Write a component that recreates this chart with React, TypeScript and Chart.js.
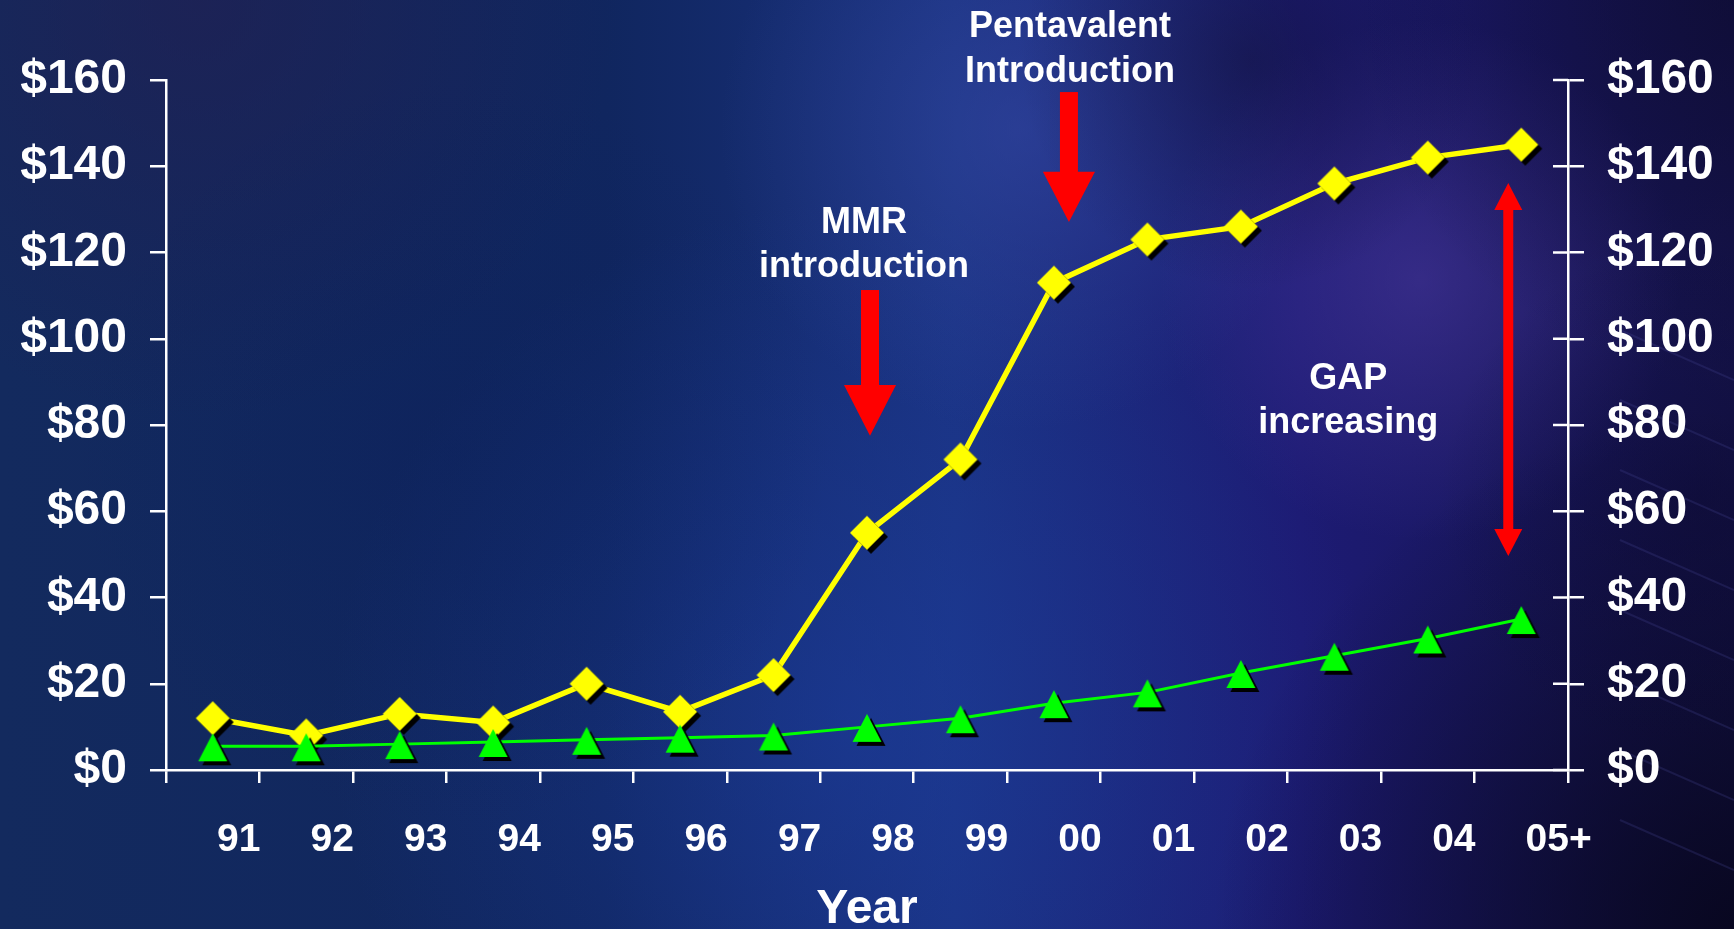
import React, { useEffect, useRef } from "react";
import { Chart, registerables } from "chart.js";

Chart.register(...registerables);

const years = ["91", "92", "93", "94", "95", "96", "97", "98", "99", "00", "01", "02", "03", "04", "05+"];
const highPrices = [12, 8, 13, 11, 20, 13.5, 22, 55, 72, 113, 123, 126, 136, 142, 145];
const lowPrices = [5.5, 5.5, 6, 6.5, 7, 7.5, 8, 10, 12, 15.5, 18, 22.5, 26.5, 30.5, 35];
const yTicks = [0, 20, 40, 60, 80, 100, 120, 140, 160];

const W = 1734;
const H = 929;
const FONT = "'Liberation Sans', Arial, Helvetica, sans-serif";

function makeDiamond(color: string): HTMLCanvasElement {
  const c = document.createElement("canvas");
  c.width = 50;
  c.height = 50;
  const ctx = c.getContext("2d")!;
  const draw = (cx: number, cy: number, fill: string) => {
    ctx.beginPath();
    ctx.moveTo(cx - 17, cy);
    ctx.lineTo(cx, cy - 17);
    ctx.lineTo(cx + 17, cy);
    ctx.lineTo(cx, cy + 17);
    ctx.closePath();
    ctx.fillStyle = fill;
    ctx.fill();
  };
  draw(29, 29, "#000000");
  draw(25, 25, color);
  return c;
}

function makeTriangle(color: string): HTMLCanvasElement {
  const c = document.createElement("canvas");
  c.width = 50;
  c.height = 50;
  const ctx = c.getContext("2d")!;
  const draw = (cx: number, cy: number, fill: string) => {
    ctx.beginPath();
    ctx.moveTo(cx, cy - 13);
    ctx.lineTo(cx + 14.5, cy + 15);
    ctx.lineTo(cx - 14.5, cy + 15);
    ctx.closePath();
    ctx.fillStyle = fill;
    ctx.fill();
  };
  draw(29, 29, "#000000");
  draw(25, 25, color);
  return c;
}

const backgroundPlugin = {
  id: "bgPaint",
  beforeDraw(chart: any) {
    const ctx = chart.ctx as CanvasRenderingContext2D;
    ctx.save();
    const lg = ctx.createLinearGradient(0, 0, W, 0);
    lg.addColorStop(0, "#132a5e");
    lg.addColorStop(0.35, "#10265f");
    lg.addColorStop(0.55, "#1a3280");
    lg.addColorStop(0.75, "#1d1b74");
    lg.addColorStop(1, "#15134a");
    ctx.fillStyle = lg;
    ctx.fillRect(0, 0, W, H);
    const radial = (x: number, y: number, r: number, col: string) => {
      const g = ctx.createRadialGradient(x, y, 0, x, y, r);
      g.addColorStop(0, col);
      g.addColorStop(1, col.replace(/[\d.]+\)$/, "0)"));
      ctx.fillStyle = g;
      ctx.fillRect(0, 0, W, H);
    };
    radial(200, 0, 420, "rgba(35,30,80,0.6)");
    radial(850, 720, 520, "rgba(30,65,170,0.45)");
    radial(1020, 130, 300, "rgba(60,80,175,0.45)");
    radial(1420, 280, 260, "rgba(85,65,170,0.45)");
    radial(1250, 60, 230, "rgba(15,15,50,0.5)");
    radial(1734, 0, 380, "rgba(12,10,45,0.6)");
    radial(1734, 929, 520, "rgba(6,5,25,0.85)");
    radial(1700, 500, 260, "rgba(12,10,50,0.5)");
    radial(450, 450, 380, "rgba(10,30,90,0.35)");
    // faint circuit lines on the right edge
    ctx.strokeStyle = "rgba(70,70,150,0.25)";
    ctx.lineWidth = 2;
    for (let i = 0; i < 8; i++) {
      ctx.beginPath();
      ctx.moveTo(1620, 330 + i * 70);
      ctx.lineTo(1734, 380 + i * 70);
      ctx.stroke();
    }
    ctx.restore();
  },
};

const overlayPlugin = {
  id: "overlay",
  afterDraw(chart: any) {
    const ctx = chart.ctx as CanvasRenderingContext2D;
    const xs = chart.scales.x;
    const ys = chart.scales.y;
    const yr = chart.scales.y1;
    const half = (xs.getPixelForValue(1) - xs.getPixelForValue(0)) / 2;
    ctx.save();

    // inward halves of right-axis ticks
    ctx.strokeStyle = "#ffffff";
    ctx.lineWidth = 2.5;
    yTicks.forEach((v) => {
      const y = yr.getPixelForValue(v);
      ctx.beginPath();
      ctx.moveTo(yr.left - 15, y);
      ctx.lineTo(yr.left, y);
      ctx.stroke();
    });

    // x tick labels, right-aligned to the category boundary
    ctx.fillStyle = "#ffffff";
    ctx.font = `bold 39px ${FONT}`;
    ctx.textBaseline = "alphabetic";
    ctx.textAlign = "left";
    years.forEach((lab, i) => {
      const right = xs.getPixelForValue(i) + half;
      const main = lab.replace("+", "");
      const w = ctx.measureText(main).width;
      ctx.fillText(lab, right - w + 1, xs.top + 81);
    });

    // axis title
    ctx.font = `bold 48px ${FONT}`;
    ctx.textAlign = "center";
    ctx.fillText("Year", (chart.chartArea.left + chart.chartArea.right) / 2, xs.top + 153);

    // annotations
    const downArrow = (x: number, yTop: number, yHead: number, yTip: number) => {
      ctx.fillStyle = "#ff0000";
      ctx.fillRect(x - 9, yTop, 18, yHead - yTop + 1);
      ctx.beginPath();
      ctx.moveTo(x - 26, yHead);
      ctx.lineTo(x + 26, yHead);
      ctx.lineTo(x, yTip);
      ctx.closePath();
      ctx.fill();
    };
    const mmrX = xs.getPixelForValue(7) + 3;
    downArrow(mmrX, ys.getPixelForValue(111.3), ys.getPixelForValue(89.3), ys.getPixelForValue(77.5));
    const pentX = xs.getPixelForValue(9) + 15;
    downArrow(pentX, ys.getPixelForValue(157.2), ys.getPixelForValue(138.7), ys.getPixelForValue(127.1));

    // gap double arrow
    const gx = xs.getPixelForValue(14) - 13;
    const gTop = ys.getPixelForValue(136.1);
    const gBot = ys.getPixelForValue(49.6);
    ctx.fillStyle = "#ff0000";
    ctx.fillRect(gx - 5, gTop + 20, 10, gBot - gTop - 40);
    ctx.beginPath();
    ctx.moveTo(gx, gTop);
    ctx.lineTo(gx + 14, gTop + 27);
    ctx.lineTo(gx - 14, gTop + 27);
    ctx.closePath();
    ctx.fill();
    ctx.beginPath();
    ctx.moveTo(gx, gBot);
    ctx.lineTo(gx + 14, gBot - 27);
    ctx.lineTo(gx - 14, gBot - 27);
    ctx.closePath();
    ctx.fill();

    ctx.fillStyle = "#ffffff";
    ctx.font = `bold 36px ${FONT}`;
    ctx.textAlign = "center";
    ctx.textBaseline = "alphabetic";
    ctx.fillText("Pentavalent", pentX + 1, 37);
    ctx.fillText("Introduction", pentX + 1, 82);
    ctx.fillText("MMR", mmrX - 6, 233);
    ctx.fillText("introduction", mmrX - 6, 277);
    ctx.fillText("GAP", gx - 160, 389);
    ctx.fillText("increasing", gx - 160, 433);

    ctx.restore();
  },
};

export default function App() {
  const ref = useRef<HTMLCanvasElement | null>(null);

  useEffect(() => {
    document.body.style.margin = "0";
    document.body.style.overflow = "hidden";
    const canvas = ref.current!;
    const diamond = makeDiamond("#ffff00");
    const triangle = makeTriangle("#00ff00");

    const yCommon = {
      min: 0,
      max: 160,
      border: { display: true, color: "#ffffff", width: 2.5 },
      grid: {
        drawOnChartArea: false,
        drawTicks: true,
        tickLength: 16,
        color: "#ffffff",
        lineWidth: 2.5,
      },
      ticks: {
        stepSize: 20,
        color: "#ffffff",
        padding: 23,
        font: { family: FONT, size: 48, weight: "bold" as const },
        callback: (v: any) => "$" + v,
      },
    };

    const chart = new Chart(canvas, {
      type: "line",
      data: {
        labels: years,
        datasets: [
          {
            label: "Low",
            data: lowPrices,
            borderColor: "#00ff00",
            borderWidth: 3,
            pointStyle: triangle as any,
            pointRadius: 10,
            tension: 0,
            yAxisID: "y",
          },
          {
            label: "High",
            data: highPrices,
            borderColor: "#ffff00",
            borderWidth: 5.5,
            pointStyle: diamond as any,
            pointRadius: 10,
            tension: 0,
            yAxisID: "y",
          },
        ],
      },
      options: {
        animation: false,
        responsive: false,
        layout: { padding: { top: 80, left: 0, right: 0, bottom: 0 } },
        plugins: {
          legend: { display: false },
          tooltip: { enabled: false },
        },
        scales: {
          x: {
            type: "category",
            offset: true,
            border: { display: true, color: "#ffffff", width: 2.5 },
            grid: {
              offset: true,
              drawOnChartArea: false,
              drawTicks: true,
              tickLength: 13,
              color: "#ffffff",
              lineWidth: 2.5,
            },
            ticks: { display: false },
            afterFit: (s: any) => {
              s.height = H - 770;
            },
          },
          y: {
            ...yCommon,
            position: "left",
            afterFit: (s: any) => {
              s.width = 166;
            },
          },
          y1: {
            ...yCommon,
            position: "right",
            afterFit: (s: any) => {
              s.width = W - 1568;
            },
          },
        },
      } as any,
      plugins: [backgroundPlugin, overlayPlugin],
    });
    return () => chart.destroy();
  }, []);

  return <canvas ref={ref} width={W} height={H} style={{ display: "block" }} />;
}
